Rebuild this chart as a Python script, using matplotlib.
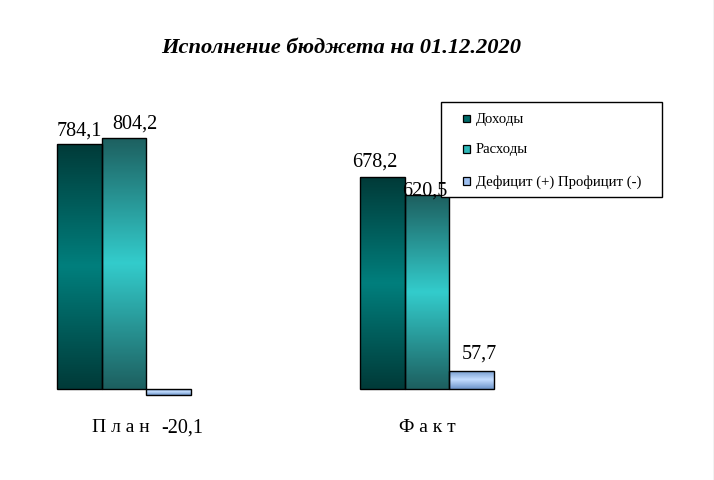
import numpy as np
import matplotlib
matplotlib.use("Agg")
import matplotlib.pyplot as plt
from matplotlib.colors import LinearSegmentedColormap
from matplotlib.patches import Rectangle
from matplotlib.lines import Line2D

# ---- data -------------------------------------------------------------
title = "Исполнение бюджета на 01.12.2020"
categories = ["П л а н", "Ф а к т"]
series_names = ["Доходы", "Расходы", "Дефицит (+) Профицит (-)"]
income = [784.1, 678.2]
expenses = [804.2, 620.5]
balance = [-20.1, 57.7]

# ---- style ------------------------------------------------------------
W, H = 714, 481
SERIF = "Liberation Serif"
gradients = [
    ["#003a38", "#007f7d", "#003a38"],   # Доходы
    ["#1d5f5f", "#33cccc", "#1d5f5f"],   # Расходы
    ["#6c94c9", "#c4ddff", "#6c94c9"],   # Дефицит / Профицит
]
legend_colors = ["#006a68", "#2fb8b8", "#9dbff0"]
# value label offsets in pixels (dx, dy from bar end)
label_offsets = [
    [(0, 9), (-7, 12)],
    [(11, 10), (-2, 1)],
    [(14, -36), (8, 13)],
]
bar_width = 0.1475

fig = plt.figure(figsize=(W / 100, H / 100), dpi=100)
ax = fig.add_axes([0, 0, 1, 1])
ax.axis("off")


def fig_px(x, y):
    """Pixel position (from top-left) to figure fraction."""
    return x / W, 1 - y / H


x = np.arange(len(categories))
all_series = [income, expenses, balance]
grad = np.linspace(0, 1, 256).reshape(-1, 1)

for k, (name, values) in enumerate(zip(series_names, all_series)):
    cmap = LinearSegmentedColormap.from_list(f"g{k}", gradients[k])
    bars = ax.bar(x + (k - 1) * bar_width, values, width=bar_width,
                  facecolor="none", edgecolor="black", linewidth=1.0,
                  zorder=3)
    for j, b in enumerate(bars):
        x0, w = b.get_x(), b.get_width()
        y0, h = b.get_y(), b.get_height()
        lo, hi = min(y0, y0 + h), max(y0, y0 + h)
        im = ax.imshow(grad, cmap=cmap, aspect="auto",
                       extent=[x0, x0 + w, lo, hi], origin="upper",
                       zorder=2, interpolation="bilinear")
        im.set_clip_path(b)
        v = values[j]
        dx, dy = label_offsets[k][j]
        ax.annotate(f"{v:.1f}".replace(".", ","), xy=(x0 + w / 2, v),
                    xytext=(dx, dy), textcoords="offset pixels",
                    ha="center", va="baseline", fontsize=14.5,
                    family=SERIF, color="black", zorder=6)

# map the data range onto the canvas
px_per_unit = 0.3125
group_px = [124, 427]
scale_x = group_px[1] - group_px[0]
ax.set_xlim(-group_px[0] / scale_x, (W - group_px[0]) / scale_x)
base_px = 390
ax.set_ylim(-(H - base_px) / px_per_unit, base_px / px_per_unit)

# category labels under the groups
cat_dx = [-3, 0]
for i, c in enumerate(categories):
    ax.annotate(c, xy=(x[i], 0), xytext=(cat_dx[i], -42),
                textcoords="offset pixels", ha="center", va="baseline",
                fontsize=14, family=SERIF)

# title
tx, ty = fig_px(341, 53)
fig.text(tx, ty, title, ha="center", va="baseline", fontsize=16.2,
         family=SERIF, fontweight="bold", fontstyle="italic")

# legend box (drawn beneath the value labels)
lx0, ly0 = fig_px(441, 198)
lx1, ly1 = fig_px(662, 103)
ax.add_patch(Rectangle((lx0, ly0), lx1 - lx0, ly1 - ly0,
                       transform=fig.transFigure, facecolor="white",
                       edgecolor="black", linewidth=1.0, zorder=4,
                       clip_on=False))
row_y = [119, 150, 182]
for name, col, ry in zip(series_names, legend_colors, row_y):
    sx, sy = fig_px(463, ry + 3.5)
    ax.add_patch(Rectangle((sx, sy), 7 / W, 7 / H,
                           transform=fig.transFigure, facecolor=col,
                           edgecolor="black", linewidth=0.9, zorder=5,
                           clip_on=False))
    tx, ty = fig_px(476, ry)
    ax.text(tx, ty, name, transform=fig.transFigure, ha="left",
            va="center", fontsize=10.6, family=SERIF, zorder=5)

# thin grey edge on the right side
fig.add_artist(Line2D([713.5 / W, 713.5 / W], [0, 1],
                      transform=fig.transFigure, color="#c0c0c0",
                      linewidth=1.0))

fig.savefig("out.png", dpi=100)
